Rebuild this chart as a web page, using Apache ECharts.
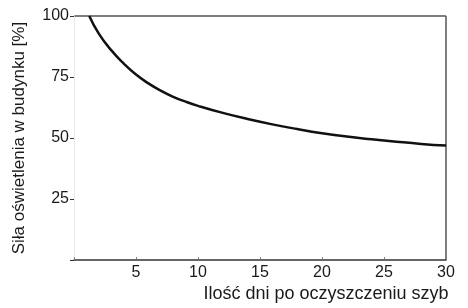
<!DOCTYPE html>
<html>
<head>
<meta charset="utf-8">
<script src="https://cdn.jsdelivr.net/npm/echarts@6/dist/echarts.min.js"></script>
<style>
  html, body { margin: 0; padding: 0; background: #fff; }
  #chart { width: 468px; height: 308px; }
</style>
</head>
<body>
<div id="chart"></div>
<script>
// dni po oczyszczeniu i siła oświetlenia
const days = [1.23, 2, 3, 4, 5, 6, 7, 8, 9, 10, 12, 14, 16, 18, 20, 22, 24, 26, 28, 30];
const light = [100, 92.8, 86, 80.6, 76, 72.4, 69.4, 66.9, 64.9, 63.2, 60.3, 57.8, 55.6, 53.7, 52, 50.6, 49.5, 48.5, 47.6, 46.9];
const xTicks = [5, 10, 15, 20, 25, 30];
const yTicks = [25, 50, 75, 100];

const font = 'Liberation Sans, Arial, sans-serif';
const hide = 'rgba(0,0,0,0)';
const chart = echarts.init(document.getElementById('chart'));

const option = {
  animation: false,
  grid: { left: 74, right: 22, top: 16, bottom: 47 },
  xAxis: {
    type: 'value', min: 0, max: 30, interval: 5,
    name: 'Ilość dni po oczyszczeniu szyb',
    nameLocation: 'middle', nameGap: 24,
    nameTextStyle: { fontFamily: font, fontSize: 18, color: '#1a1a1a', padding: [0, 0, 0, 132] },
    axisLine: { lineStyle: { color: '#333', width: 1.5 } },
    axisTick: { inside: true, length: 3, lineStyle: { color: '#777' } },
    // only the line at x = 30 is shown: the right edge of the frame
    splitLine: { show: true, lineStyle: { color: [hide, hide, hide, hide, hide, hide, '#555'], width: 1.5 } },
    axisLabel: {
      fontFamily: font, fontSize: 16, color: '#1a1a1a', margin: 4,
      formatter: v => xTicks.includes(v) ? String(v) : ''
    }
  },
  yAxis: {
    type: 'value', min: 0, max: 100, interval: 25,
    name: 'Siła oświetlenia w budynku [%]',
    nameLocation: 'middle', nameGap: 46,
    nameTextStyle: { fontFamily: font, fontSize: 17, color: '#1a1a1a' },
    axisLine: { show: true, lineStyle: { color: '#e6e6e6', type: 'dotted' } },
    axisTick: { show: true, length: 4, lineStyle: { color: '#333' } },
    // only the line at y = 100 is shown: the top edge of the frame
    splitLine: { show: true, lineStyle: { color: [hide, hide, hide, hide, '#555'], width: 1.5 } },
    axisLabel: {
      fontFamily: font, fontSize: 16, color: '#1a1a1a', margin: 5,
      formatter: v => yTicks.includes(v) ? String(v) : ''
    }
  },
  series: [
    {
      type: 'line',
      smooth: true,
      symbol: 'none',
      data: days.map((d, i) => [d, light[i]]),
      lineStyle: { color: '#111', width: 2.5 }
    }
  ]
};

chart.setOption(option);
</script>
</body>
</html>
